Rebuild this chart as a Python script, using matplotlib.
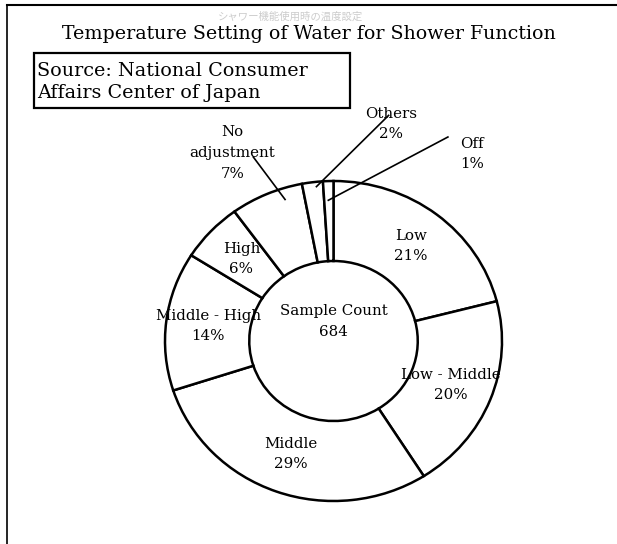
import matplotlib
matplotlib.use("Agg")
import matplotlib.pyplot as plt
import numpy as np
from matplotlib.patches import Rectangle

# Data
categories = ["Low", "Low - Middle", "Middle", "Middle - High", "High",
              "No\nadjustment", "Others", "Off"]
shares = [21, 20, 29, 14, 6, 7, 2, 1]
sample_count = 684
title = "Temperature Setting of Water for Shower Function"
source = "Source: National Consumer\nAffairs Center of Japan"
jp_title = "シャワー機能使用時の温度設定"

plt.rcParams['font.family'] = ['DejaVu Serif', 'Noto Sans CJK JP']

fig = plt.figure(figsize=(6.17, 5.44), dpi=100)

# overlay in pixel coords for frame, title and source box
bg = fig.add_axes([0, 0, 1, 1])
bg.set_xlim(0, 617)
bg.set_ylim(544, 0)
bg.axis("off")
bg.plot([7, 617], [5, 5], color="black", lw=1.5)
bg.plot([7, 7], [5, 544], color="black", lw=1.2)
bg.text(291, 17, jp_title, fontsize=7.5, color="#cccccc", ha="center", va="center",
        family=['Noto Sans CJK JP'])
bg.text(309, 34, title, fontsize=13.7, ha="center", va="center")
bg.add_patch(Rectangle((34, 53), 316, 55, fill=False, lw=1.6, ec="black"))
bg.text(37, 82, source, fontsize=13.8, ha="left", va="center", linespacing=1.35)

# donut
ax = fig.add_axes([165 / 617, 43 / 544, 337 / 617, 320 / 544])
labels = [f"{c}\n{s}%" for c, s in zip(categories, shares)]
wedges, _ = ax.pie(shares, startangle=90, counterclock=False,
                   wedgeprops=dict(width=0.5, edgecolor="black", linewidth=1.8,
                                   facecolor="white"))
ax.set_aspect("auto")
ax.set_xlim(-1, 1)
ax.set_ylim(-1, 1)
ax.axis("off")

fs = 10.8
ls = 1.6

# inside labels at mid-ring
for w, lab in zip(wedges[:5], labels[:5]):
    ang = np.deg2rad((w.theta1 + w.theta2) / 2)
    ax.text(0.75 * np.cos(ang), 0.75 * np.sin(ang), lab, ha="center", va="center",
            fontsize=fs, linespacing=ls)

# outside labels with leader lines
text_pos = [(-0.60, 1.175), (0.34, 1.355), (0.82, 1.17)]
line_start = [(-0.476, 1.15), (0.327, 1.41), (0.679, 1.275)]
line_r = [0.93, 0.97, 0.88]
line_ang = [108, 96, 92]
for i, (w, lab) in enumerate(zip(wedges[5:], labels[5:])):
    ax.text(text_pos[i][0], text_pos[i][1], lab, ha="center", va="center",
            fontsize=fs, linespacing=ls, clip_on=False)
    a = np.deg2rad(line_ang[i])
    ax.plot([line_start[i][0], line_r[i] * np.cos(a)],
            [line_start[i][1], line_r[i] * np.sin(a)],
            color="black", lw=1.2, clip_on=False)

ax.text(0, 0.12, f"Sample Count\n{sample_count}", ha="center", va="center",
        fontsize=fs, linespacing=ls)

fig.savefig("out.png", dpi=100)
